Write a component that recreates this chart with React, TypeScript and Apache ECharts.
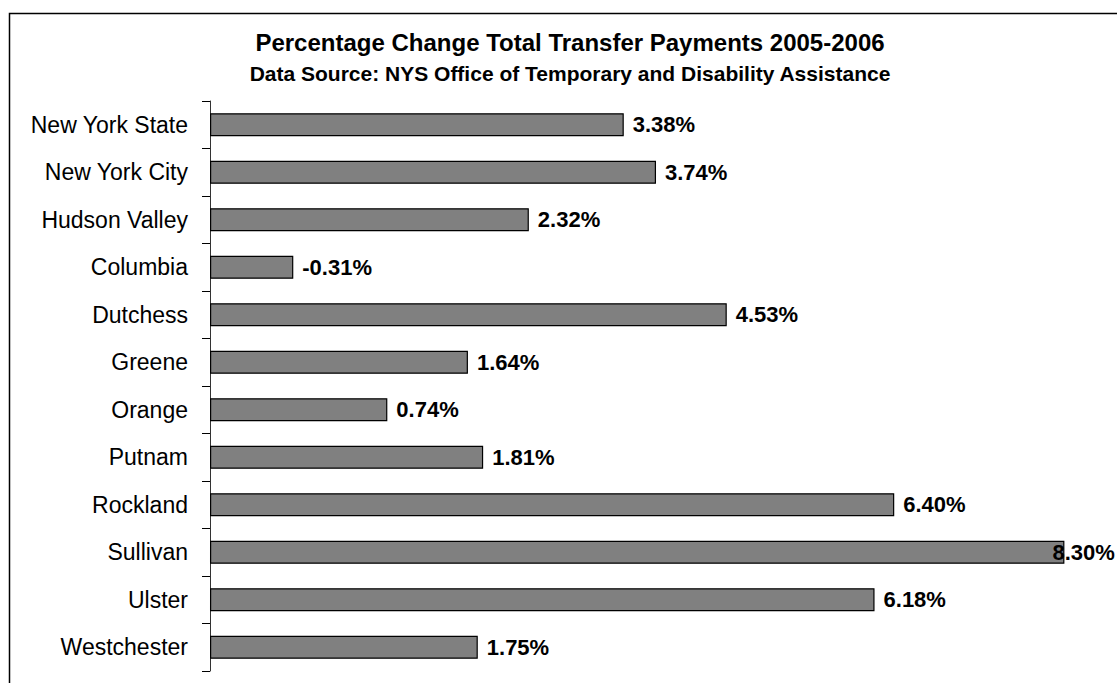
import React, { useEffect, useRef } from "react";
import * as echarts from "echarts";

const categories = [
  "New York State",
  "New York City",
  "Hudson Valley",
  "Columbia",
  "Dutchess",
  "Greene",
  "Orange",
  "Putnam",
  "Rockland",
  "Sullivan",
  "Ulster",
  "Westchester",
];

const pctChange = [3.38, 3.74, 2.32, -0.31, 4.53, 1.64, 0.74, 1.81, 6.4, 8.3, 6.18, 1.75];

const titleText = "Percentage Change Total Transfer Payments 2005-2006";
const subtitleText = "Data Source: NYS Office of Temporary and Disability Assistance";

// The category axis crosses the value axis at this value; bars grow from it.
const AXIS_CROSS = -1.24;
const AXIS_SPAN = 10;

const FONT = "'Liberation Sans', Arial, Helvetica, sans-serif";

export default function App() {
  const ref = useRef<HTMLDivElement>(null);

  useEffect(() => {
    if (!ref.current) return;
    const chart = echarts.init(ref.current, null, { renderer: "svg" });
    const maxIdx = pctChange.indexOf(Math.max(...pctChange));
    chart.setOption({
      animation: false,
      backgroundColor: "#ffffff",
      title: [
        {
          text: titleText,
          left: 565,
          top: 25,
          textAlign: "center",
          textStyle: { fontFamily: FONT, fontSize: 24, fontWeight: "bold", color: "#000" },
        },
        {
          text: subtitleText,
          left: 565,
          top: 58,
          textAlign: "center",
          textStyle: { fontFamily: FONT, fontSize: 21, fontWeight: "bold", color: "#000" },
        },
      ],
      graphic: [
        {
          type: "rect",
          shape: { x: 9.5, y: 13.5, width: 1300, height: 900 },
          style: { fill: "none", stroke: "#000", lineWidth: 1.5 },
          silent: true,
        },
      ],
      grid: { left: 210, right: 11.4, top: 101, bottom: 12, containLabel: false },
      xAxis: {
        type: "value",
        min: 0,
        max: AXIS_SPAN,
        show: false,
      },
      yAxis: {
        type: "category",
        data: categories,
        inverse: true,
        axisLine: { show: true, lineStyle: { color: "#333", width: 1 } },
        axisTick: { show: true, length: 8, lineStyle: { color: "#000", width: 1 } },
        axisLabel: {
          margin: 22,
          fontFamily: FONT,
          fontSize: 23,
          color: "#000",
        },
      },
      series: [
        {
          type: "bar",
          barWidth: 23,
          data: pctChange.map((v, i) => ({
            value: v - AXIS_CROSS,
            label: i === maxIdx ? { offset: [-21, 0] } : undefined,
          })),
          itemStyle: { color: "#808080", borderColor: "#000", borderWidth: 1.2 },
          label: {
            show: true,
            position: "right",
            distance: 9,
            fontFamily: FONT,
            fontSize: 22,
            fontWeight: "bold",
            color: "#000",
            formatter: (p: any) => pctChange[p.dataIndex].toFixed(2) + "%",
          },
        },
      ],
    });
    return () => chart.dispose();
  }, []);

  return (
    <div
      ref={ref}
      style={{ position: "absolute", left: 0, top: 0, width: 1117, height: 683, background: "#fff" }}
    />
  );
}
